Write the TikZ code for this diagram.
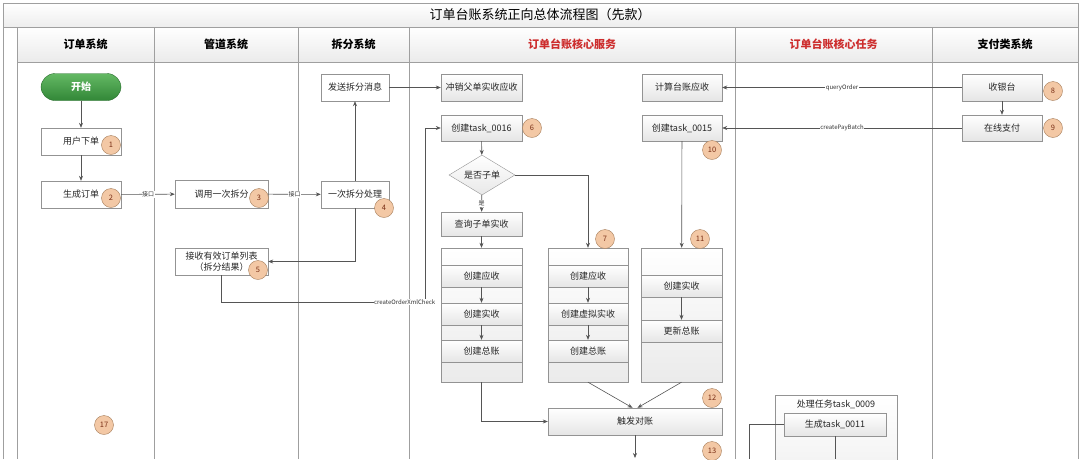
\documentclass[tikz,border=0pt]{standalone}
\usepackage{fontspec}
\setmainfont{Noto Sans CJK SC}
\usetikzlibrary{arrows.meta}
\usetikzlibrary{shapes.geometric}
\usetikzlibrary{calc}

\definecolor{lanered}{RGB}{205,45,45}
\definecolor{greentop}{RGB}{100,185,100}
\definecolor{greenbot}{RGB}{50,135,55}
\definecolor{badgefill}{RGB}{243,200,165}
\definecolor{badgeline}{RGB}{165,125,90}
\definecolor{badgetext}{RGB}{120,45,20}
\definecolor{linegray}{RGB}{85,85,85}

\begin{document}
\begin{tikzpicture}
	[x=1pt,y=-1pt,
	 box/.style={draw=gray!85,fill=white,minimum width=80pt,minimum height=27pt,inner sep=1pt,align=center,text=black!85,font=\fontsize{9}{10.5}\selectfont},
	 cell/.style={box,top color=white,bottom color=gray!20},
	 row/.style={cell,minimum width=81pt,minimum height=22pt},
	 stack/.style={draw=gray!85,top color=white,bottom color=gray!16,minimum width=81pt,minimum height=134pt,inner sep=0pt},
	 start/.style={box,rounded corners=14pt,draw=greenbot!80!black,top color=greentop,bottom color=greenbot,text=white,font=\bfseries\fontsize{10}{11}\selectfont},
	 badge/.style={circle,draw=badgeline,fill=badgefill,minimum size=19pt,inner sep=0pt,text=badgetext,font=\fontsize{7.5}{8}\selectfont},
	 lane/.style={font=\bfseries\fontsize{11}{12}\selectfont},
	 arr/.style={draw=linegray,line width=0.6pt,-{Stealth[length=5pt,width=4pt]}},
	 lbl/.style={fill=white,inner sep=0.5pt,font=\fontsize{6}{6}\selectfont,text=black!80}]

	\useasboundingbox (0,0) rectangle (1080,459);

	%Frame and lanes
	\fill[top color=white,bottom color=gray!14] (3,3) rectangle (1078,27);
	\fill[top color=white,bottom color=gray!16] (17,27) rectangle (1078,62);
	\draw[gray!75,line width=0.8pt] (3,459) -- (3,3) -- (1078,3) -- (1078,459);
	\draw[gray!75,line width=0.8pt] (3,27) -- (1078,27);
	\draw[gray!75,line width=0.8pt] (17,62) -- (1078,62);
	\foreach \x in {17,154,298,409,735,932}
		\draw[gray!75,line width=0.8pt] (\x,27) -- (\x,459);
	\node[font=\fontsize{13}{14}\selectfont] (title) at (540,15) {订单台账系统正向总体流程图（先款）};
	\node[lane] (h1) at (85.5,44.5) {订单系统};
	\node[lane] (h2) at (226,44.5) {管道系统};
	\node[lane] (h3) at (353.5,44.5) {拆分系统};
	\node[lane,text=lanered] (h4) at (572,44.5) {订单台账核心服务};
	\node[lane,text=lanered] (h5) at (833.5,44.5) {订单台账核心任务};
	\node[lane] (h6) at (1005,44.5) {支付类系统};

	%Order, pipe and split systems
	\node[start] (start) at (81,87) {开始};
	\node[box] (order) at (81,141.5) {用户下单};
	\node[box] (gen) at (81,194.5) {生成订单};
	\node[box,minimum width=93pt,minimum height=28pt] (call) at (221.5,194) {调用一次拆分};
	\node[box,minimum width=68pt] (split) at (355,194.5) {一次拆分处理};
	\node[box,minimum width=68pt] (send) at (355,87.5) {发送拆分消息};
	\node[box,minimum width=93pt] (recv) at (221.5,261.5) {接收有效订单列表\\（拆分结果）};

	%Core service
	\node[cell,minimum width=81pt] (offset) at (481.5,87.5) {冲销父单实收应收};
	\node[cell,minimum width=81pt,minimum height=26pt] (t16) at (481.5,128) {创建task\_0016};
	\node[diamond,aspect=1.65,draw=gray!85,top color=white,bottom color=gray!18,minimum width=66pt,minimum height=40pt,inner sep=0pt,text=black!85,font=\fontsize{9}{10}\selectfont] (dia) at (482,175) {是否子单};
	\node[cell,minimum width=81pt,minimum height=24pt] (query) at (481.5,224) {查询子单实收};

	\node[stack] (stack1) at (481.5,315) {};
	\node[row] (s1a) at (481.5,276) {创建应收};
	\node[row] (s1b) at (481.5,314) {创建实收};
	\node[row] (s1c) at (481.5,351) {创建总账};

	\node[stack,minimum width=80pt] (stack2) at (588,315) {};
	\node[row,minimum width=80pt] (s2a) at (588,276) {创建应收};
	\node[row,minimum width=80pt] (s2b) at (588,314) {创建虚拟实收};
	\node[row,minimum width=80pt] (s2c) at (588,351) {创建总账};

	\node[cell] (calc) at (682,87.5) {计算台账应收};
	\node[cell,minimum height=26pt] (t15) at (682,128) {创建task\_0015};
	\node[stack] (stack3) at (681.5,315) {};
	\node[row] (s3a) at (681.5,286) {创建实收};
	\node[row] (s3b) at (681.5,331) {更新总账};

	\node[cell,minimum width=174pt] (sync) at (635,421.5) {触发对账};

	%Core task
	\node[draw=gray!85,top color=white,bottom color=gray!10,minimum width=122pt,minimum height=75pt,anchor=north west] (task9) at (775,395) {};
	\node[font=\fontsize{9}{10}\selectfont,text=black!85] (task9t) at (836,404) {处理任务task\_0009};
	\node[cell,minimum width=102pt,minimum height=23pt] (t11) at (835,424.5) {生成task\_0011};

	%Payment systems
	\node[cell] (cashier) at (1002,87.5) {收银台};
	\node[cell,minimum height=26pt] (pay) at (1002,128) {在线支付};

	%Connectors
	\coordinate (xml) at (425,302);
	\coordinate (syncend) at (635,458);
	\coordinate (t11end) at (749,459);
	\draw[arr] (start) -- (order);
	\draw[arr] (order) -- (gen);
	\draw[arr] (gen) -- node[lbl]{接口} (call);
	\draw[arr] (call) -- node[lbl]{接口} (split);
	\draw[arr] (split) -- (send);
	\draw[arr] (split.south) |- (recv.east);
	\draw[arr] (recv.south) |- node[lbl,pos=0.95]{createOrderXmlCheck} (xml) |- (t16.west);
	\draw[arr] (send) -- (offset);
	\draw[arr] (t16) -- (dia);
	\draw[arr] (dia) -- node[lbl]{是} (query);
	\draw[arr] (dia.east) -| (stack2.north);
	\draw[arr] (query) -- (stack1);
	\draw[arr] (s1a) -- (s1b);
	\draw[arr] (s1b) -- (s1c);
	\draw[arr] (s2a) -- (s2b);
	\draw[arr] (s2b) -- (s2c);
	\draw[arr] (s3a) -- (s3b);
	\draw[arr] (cashier) -- node[lbl]{queryOrder} (calc);
	\draw[arr] (pay) -- node[lbl]{createPayBatch} (t15);
	\draw[arr] (cashier) -- (pay);
	\draw[arr] (t15) -- (stack3);
	\draw[arr] (stack1.south) |- (sync.west);
	\draw[arr] (stack2.south) -- ($(sync.north)+(-2.5,0)$);
	\draw[arr] (stack3.south) -- ($(sync.north)+(2.5,0)$);
	\draw[arr] (sync) -- (syncend);
	\draw[linegray,line width=0.6pt] (t11.west) -| (t11end);
	\draw[linegray,line width=0.6pt] (t11.south) -- (t11.south |- t11end);

	%Badges
	\foreach \n/\x/\y in {1/111/145,2/111/198,3/259/198,4/384/208,5/258/270,6/532/128,7/605/239,8/1053/91,9/1053/128,10/712/150,11/700/239,12/712/398,13/712/451,17/104/425}
		\node[badge] (b\n) at (\x,\y) {\n};
\end{tikzpicture}
\end{document}
